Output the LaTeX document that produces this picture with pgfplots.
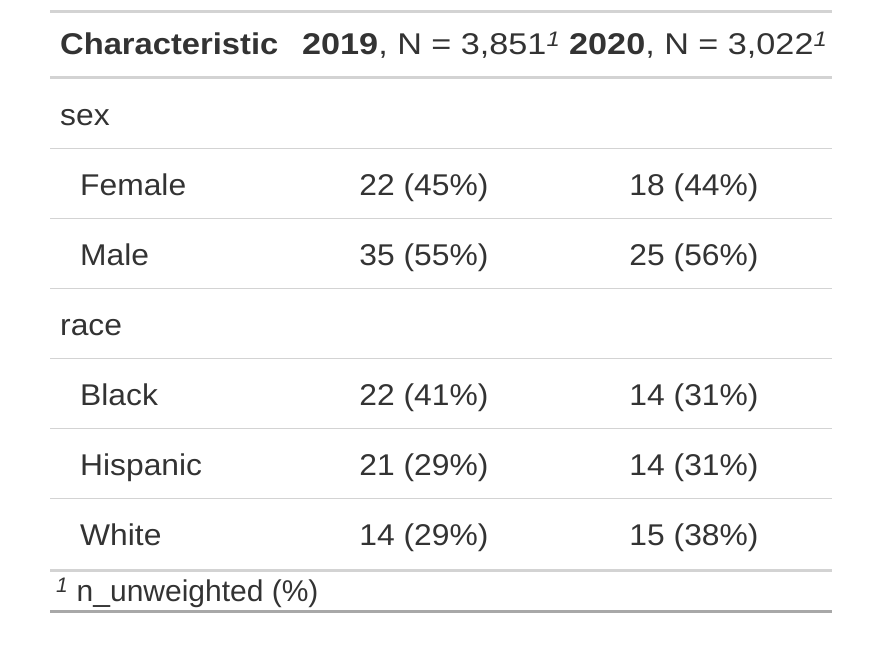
\documentclass[border=0pt]{standalone}
\usepackage{fontspec}
\setmainfont{Liberation Sans}[FakeStretch=1.06, BoldFeatures={FakeStretch=1.09}]
\newfontfamily\hdrfont{Liberation Sans}[FakeStretch=1.14]
\newfontfamily\notefont{Liberation Sans}
\usepackage{pgfplots}
\pgfplotsset{compat=1.18}
\definecolor{txt}{HTML}{333333}
\definecolor{rule}{HTML}{D3D3D3}
\definecolor{rulebot}{HTML}{A8A8A8}

\begin{document}
\begin{tikzpicture}
\begin{axis}[
    width=872bp, height=648bp, scale only axis,
    xmin=0, xmax=872, ymin=0, ymax=648, y dir=reverse,
    hide axis, clip=false,
    point meta=explicit symbolic,
    every node near coord/.append style={inner sep=0pt, text=txt,
        font=\fontsize{30bp}{36bp}\selectfont},
]
\path (rel axis cs:0,0) rectangle (rel axis cs:1,1);
% rules
\addplot[rule, line width=3bp] coordinates {(50,12) (832,12)};
\addplot[rule, line width=3bp] coordinates {(50,78) (832,78)};
\addplot[rule, line width=1.5bp] coordinates {(50,148.5) (832,148.5)};
\addplot[rule, line width=1.5bp] coordinates {(50,218.5) (832,218.5)};
\addplot[rule, line width=1.5bp] coordinates {(50,288.5) (832,288.5)};
\addplot[rule, line width=1.5bp] coordinates {(50,358.5) (832,358.5)};
\addplot[rule, line width=1.5bp] coordinates {(50,428.5) (832,428.5)};
\addplot[rule, line width=1.5bp] coordinates {(50,498.5) (832,498.5)};
\addplot[rule, line width=3bp] coordinates {(50,570) (832,570)};
\addplot[rulebot, line width=3bp] coordinates {(50,611.5) (832,611.5)};
% left column
\addplot[draw=none, mark=none, nodes near coords,
    nodes near coords align={anchor=base west}] coordinates {
    (60,55) [\textbf{Characteristic}]
    (302,55) [\hdrfont\textbf{2019}, N = 3,851\textsuperscript{\textit{1}}]
    (569,55) [\hdrfont\textbf{2020}, N = 3,022\textsuperscript{\textit{1}}]
    (60,125) [sex]
    (80,195) [Female]
    (80,265) [Male]
    (60,335) [race]
    (80,405) [Black]
    (80,475) [Hispanic]
    (80,545) [White]
    (56,601) [\notefont\textsuperscript{\textit{1}} n\_unweighted (\%)]
};
% value columns
\addplot[draw=none, mark=none, nodes near coords,
    nodes near coords align={anchor=base}] coordinates {
    (424,195) [22 (45\%)]
    (424,265) [35 (55\%)]
    (424,405) [22 (41\%)]
    (424,475) [21 (29\%)]
    (424,545) [14 (29\%)]
    (694,195) [18 (44\%)]
    (694,265) [25 (56\%)]
    (694,405) [14 (31\%)]
    (694,475) [14 (31\%)]
    (694,545) [15 (38\%)]
};
\end{axis}
\end{tikzpicture}
\end{document}
